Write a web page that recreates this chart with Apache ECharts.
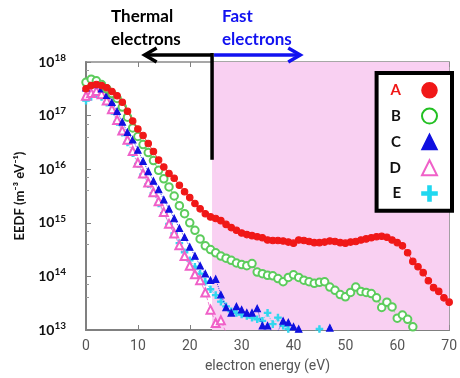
<!DOCTYPE html>
<html>
<head>
<meta charset="utf-8">
<script src="https://cdn.jsdelivr.net/npm/echarts@6/dist/echarts.min.js"></script>
<style>
  html, body { margin: 0; padding: 0; background: #fff; }
  #chart { width: 460px; height: 378px; }
</style>
</head>
<body>
<div id="chart"></div>
<script>
// electron energy (eV), one point per eV
const energy = [0, 1, 2, 3, 4, 5, 6, 7, 8, 9, 10, 11, 12, 13, 14, 15, 16, 17, 18, 19,
  20, 21, 22, 23, 24, 25, 26, 27, 28, 29, 30, 31, 32, 33, 34, 35, 36, 37, 38, 39,
  40, 41, 42, 43, 44, 45, 46, 47, 48, 49, 50, 51, 52, 53, 54, 55, 56, 57, 58, 59,
  60, 61, 62, 63, 64, 65, 66, 67, 68, 69, 70];

// log10 of EEDF (m^-3 eV^-1)
const logA = [17.50, 17.56, 17.58, 17.56, 17.52, 17.45, 17.37, 17.25, 17.08, 16.90,
  16.75, 16.63, 16.48, 16.33, 16.17, 16.04, 15.92, 15.83, 15.70, 15.58,
  15.47, 15.36, 15.26, 15.17, 15.11, 15.08, 15.04, 14.97, 14.91, 14.86,
  14.81, 14.78, 14.76, 14.74, 14.72, 14.68, 14.67, 14.67, 14.66, 14.64,
  14.62, 14.68, 14.67, 14.65, 14.63, 14.63, 14.64, 14.66, 14.65, 14.63,
  14.62, 14.64, 14.65, 14.68, 14.70, 14.72, 14.74, 14.75, 14.73, 14.68,
  14.63, 14.57, 14.44, 14.28, 14.18, 14.07, 13.92, 13.79, 13.72, 13.60, 13.52];
const logB = [17.62, 17.68, 17.65, 17.58, 17.50, 17.41, 17.32, 17.16, 16.97, 16.77,
  16.61, 16.46, 16.31, 16.16, 15.98, 15.82, 15.67, 15.50, 15.32, 15.17,
  15.00, 14.86, 14.70, 14.57, 14.50, 14.44, 14.38, 14.34, 14.30, 14.25,
  14.22, 14.20, 14.24, 14.08, 14.05, 14.02, 14.01, 13.96, 13.90, 13.98,
  14.03, 13.98, 13.93, 13.90, 13.87, 13.89, 13.90, 13.80, 13.74, 13.66,
  13.62, 13.70, 13.80, 13.72, 13.70, 13.68, 13.60, 13.42, 13.52, 13.43,
  13.22, 13.28, 13.20, 13.06, 12.92];
const logC = [17.52, 17.60, 17.58, 17.50, 17.38, 17.25, 17.08, 16.88, 16.69, 16.55,
  16.36, 16.15, 15.96, 15.78, 15.62, 15.43, 15.26, 15.08, 14.90, 14.73,
  14.55, 14.38, 14.20, 14.05, 13.93, 13.95, 13.66, 13.42, 13.32, 13.44,
  13.38, 13.32, 13.32, 13.40, 13.08, 13.08, 12.95, 12.98, 13.17, 13.14,
  13.06, 13.02, 12.92, 12.88, 12.90, 12.95, 12.96, 13.04, 12.92];
const logD = [17.37, 17.42, 17.46, 17.40, 17.28, 17.12, 16.92, 16.72, 16.55, 16.34,
  16.12, 15.92, 15.75, 15.57, 15.40, 15.20, 14.98, 14.80, 14.58, 14.38,
  14.20, 14.04, 13.93, 13.70, 13.38, 13.13, 13.18, 12.95, 12.90];
const logE = [17.28, 17.35, 17.40, 17.35, 17.24, 17.08, 16.88, 16.68, 16.50, 16.30,
  16.10, 15.90, 15.72, 15.55, 15.36, 15.18, 14.98, 14.80, 14.62, 14.45,
  14.30, 14.18, 14.05, 13.90, 13.76, 13.65, 13.53, 13.44, 13.35, 13.32,
  13.29, 13.26, 13.23, 13.20, 13.17, 13.32, 13.11, 13.23, 13.08, 13.02,
  12.95, 12.90, 12.92, 12.95, 12.98, 13.02, 12.90];

const seriesNames = ['A', 'B', 'C', 'D', 'E'];
const xTicks = [0, 10, 20, 30, 40, 50, 60, 70];
const thermalCut = 24.3; // boundary thermal / fast (eV)

const plus = 'path://M4,0H6V4H10V6H6V10H4V6H0V4H4Z';

function toPoints(logs) {
  return logs.map((v, i) => [energy[i], Math.pow(10, v)]);
}

const chart = echarts.init(document.getElementById('chart'));

const styles = [
  { symbol: 'circle', size: 6.5, color: '#f01818', line: 'solid' },
  { symbol: 'emptyCircle', size: 7.5, color: '#5ccc5c', line: 'dashed' },
  { symbol: 'triangle', size: 6.5, color: '#1010e0', line: 'dotted' },
  { symbol: 'emptyTriangle', size: 8, color: '#f060c8', line: 'dashed' },
  { symbol: plus, size: 6.5, color: '#30d6ee', line: 'dotted' },
];
const legendIcons = ['circle', 'emptyCircle', 'triangle', 'emptyTriangle', plus];
const legendColors = ['#f01818', '#22c022', '#1010e0', '#f060c8', '#20d8f0'];
const allLogs = [logA, logB, logC, logD, logE];

const option = {
  animation: false,
  grid: {
    left: 86, right: 8, top: 62, bottom: 42,
    show: true, borderColor: '#8a8a8a', borderWidth: 1.5,
  },
  xAxis: [{
    type: 'value', min: 0, max: 70, interval: 10,
    name: 'electron energy (eV)', nameLocation: 'middle', nameGap: 29,
    nameTextStyle: { fontFamily: 'Roboto', fontSize: 14, color: '#555' },
    axisLine: { lineStyle: { color: '#808080', width: 2 } },
    axisTick: { inside: true, length: 5, lineStyle: { color: '#808080' } },
    axisLabel: {
      margin: 9, fontFamily: 'Roboto', fontSize: 14, color: '#555',
      formatter: v => (xTicks.includes(v) ? String(v) : ''),
    },
    splitLine: { show: false },
  }, {
    type: 'value', min: 0, max: 70, interval: 10, position: 'top',
    axisLine: { show: false },
    axisTick: { inside: true, length: 5, lineStyle: { color: '#808080' } },
    axisLabel: { show: false },
    splitLine: { show: false },
  }],
  yAxis: {
    type: 'log', logBase: 10, min: 1e13, max: 1e18,
    name: 'EEDF (m⁻³ eV⁻¹)', nameLocation: 'middle', nameRotate: 90, nameGap: 60,
    nameTextStyle: { fontFamily: 'Lato', fontWeight: 'bold', fontSize: 13, color: '#111' },
    axisLine: { show: true, lineStyle: { color: '#808080', width: 2 } },
    axisTick: { inside: true, length: 5, lineStyle: { color: '#808080' } },
    minorTick: { show: true, splitNumber: 3, length: 3, lineStyle: { color: '#999' } },
    axisLabel: {
      margin: 20,
      formatter: v => '{b|10}{s|' + Math.round(Math.log10(v)) + '}',
      rich: {
        b: { fontFamily: 'Lato', fontWeight: 'bold', fontSize: 14, color: '#111' },
        s: { fontFamily: 'Lato', fontWeight: 'bold', fontSize: 10, color: '#111', padding: [0, 0, 9, 0] },
      },
    },
    splitLine: { show: false },
  },
  legend: {
    orient: 'vertical', right: 8, top: 73, align: 'right',
    backgroundColor: '#fff', borderColor: '#000', borderWidth: 4, borderRadius: 0,
    padding: [9, 14, 9, 13], itemGap: 9, itemWidth: 15, itemHeight: 15,
    selectedMode: false,
    textStyle: {
      fontFamily: 'Lato', fontWeight: 'bold', fontSize: 15, color: '#111',
      padding: [0, 16, 0, 0], lineHeight: 15,
    },
    data: seriesNames.map((n, i) => ({
      name: n, icon: legendIcons[i],
      itemStyle: { color: legendColors[i], borderColor: legendColors[i], borderWidth: 1.6 },
      textStyle: i === 0 ? { color: '#f01818' } : {},
    })),
  },
  series: [{
    type: 'line', data: [], silent: true, z: 1,
    markArea: {
      silent: true,
      itemStyle: { color: '#f9d0f2' },
      data: [[{ xAxis: thermalCut }, { xAxis: 70 }]],
    },
  }].concat(allLogs.map((logs, i) => ({
    name: seriesNames[i],
    type: 'line',
    z: 10 - i,
    data: toPoints(logs),
    symbol: styles[i].symbol,
    symbolSize: styles[i].size,
    showSymbol: true,
    clip: true,
    itemStyle: { color: styles[i].color, borderColor: styles[i].color, borderWidth: 1.1 },
    lineStyle: { color: styles[i].color, width: 1, type: styles[i].line, opacity: 0.8 },
  }))),
};

chart.setOption(option);

// annotation: thermal / fast boundary with arrows
const xc = chart.convertToPixel({ xAxisIndex: 0 }, thermalCut);
const xl = chart.convertToPixel({ xAxisIndex: 0 }, 11.3);
const xr = chart.convertToPixel({ xAxisIndex: 0 }, 41.3);
const yb = chart.convertToPixel({ yAxisIndex: 0 }, 1.5e16);
const ya = 55;
const blue = '#1212f0';

chart.setOption({
  graphic: [
    { type: 'line', z: 100, shape: { x1: xc, y1: ya - 2, x2: xc, y2: yb }, style: { stroke: '#000', lineWidth: 3.5 } },
    { type: 'line', z: 100, shape: { x1: xl + 1, y1: ya, x2: xc, y2: ya }, style: { stroke: '#000', lineWidth: 3.5 } },
    { type: 'polyline', z: 100, shape: { points: [[xl + 12, ya - 7], [xl, ya], [xl + 12, ya + 7]] }, style: { stroke: '#000', lineWidth: 3.5, fill: null } },
    { type: 'line', z: 100, shape: { x1: xc + 2, y1: ya, x2: xr - 1, y2: ya }, style: { stroke: blue, lineWidth: 3.5 } },
    { type: 'polyline', z: 100, shape: { points: [[xr - 12, ya - 7], [xr, ya], [xr - 12, ya + 7]] }, style: { stroke: blue, lineWidth: 3.5, fill: null } },
    { type: 'text', z: 100, left: 111, top: 5, style: { text: 'Thermal\nelectrons', fill: '#000', font: 'bold 17px Lato', lineHeight: 23 } },
    { type: 'text', z: 100, left: 222, top: 5, style: { text: 'Fast\nelectrons', fill: blue, font: 'bold 17px Lato', lineHeight: 23 } },
  ],
});

window.addEventListener('resize', () => chart.resize());
</script>
</body>
</html>
